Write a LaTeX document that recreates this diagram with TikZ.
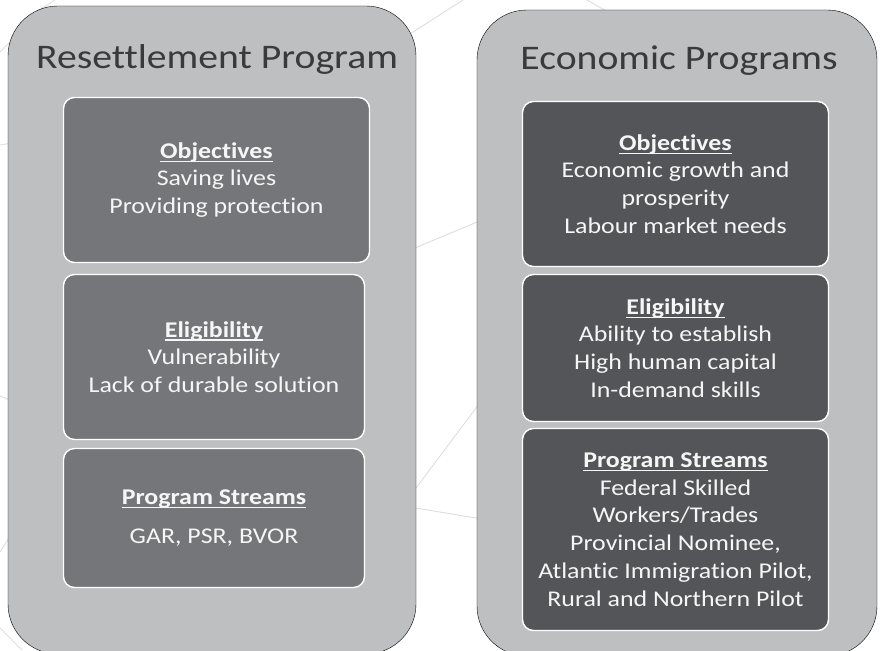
\documentclass[tikz,border=0pt]{standalone}
\usepackage{fontspec}
\setmainfont{Carlito}[FakeStretch=1.15, Ligatures=NoCommon]

\definecolor{panelgrey}{RGB}{190,191,193}
\definecolor{resgrey}{RGB}{117,118,122}
\definecolor{ecogrey}{RGB}{84,85,88}
\definecolor{titlegrey}{RGB}{58,58,60}
\definecolor{boxtext}{RGB}{246,246,246}
\definecolor{netgrey}{RGB}{222,222,224}

% bold heading with a low underline
\newcommand{\ulbf}[1]{\setbox0=\hbox{\bfseries #1}\rlap{\rule[-3.8pt]{\wd0}{1.4pt}}\box0}

\tikzset{
  panel/.style={fill=panelgrey, rounded corners=50pt},
  infobox/.style={draw=white, line width=1.4pt, rounded corners=11pt, inner sep=0pt,
    align=center, text=boxtext, font=\fontsize{22.5}{27.8}\selectfont},
  resbox/.style={infobox, fill=resgrey},
  ecobox/.style={infobox, fill=ecogrey},
  title/.style={anchor=base, text=titlegrey, font=\fontsize{34.5}{40}\selectfont},
  netline/.style={draw=netgrey, line width=0.9pt},
}

\begin{document}
\begin{tikzpicture}[x=1pt, y=-1pt]
  \useasboundingbox (0,0) rectangle (880,650);
  \clip (0,0) rectangle (880,650);
  \fill[white] (0,0) rectangle (880,650);

  % faint network in the background
  \draw[netline] (55,0) -- (30,16);
  \draw[netline] (0,52) -- (12,40);
  \draw[netline] (0,145) -- (12,143);
  \draw[netline] (0,396) -- (12,401);
  \draw[netline] (0,552) -- (12,533);
  \draw[netline] (0,628) -- (22,650);
  \draw[netline] (463,0) -- (410,34);
  \draw[netline] (587,0) -- (608,12);
  \draw[netline] (410,250) -- (482,220);
  \draw[netline] (410,496) -- (482,400);
  \draw[netline] (410,507) -- (482,519);

  % the two programme panels
  \draw[panel] (8,6) rectangle (416,654);
  \draw[panel] (477,10) rectangle (877,656);

  \node[title] (resTitle) at (217,69) {Resettlement Program};
  \node[title] (ecoTitle) at (679,70) {Economic Programs};

  \node[resbox, minimum width=306pt, minimum height=165pt] (resObj) at (216.5,180)
    {\ulbf{Objectives}\\Saving lives\\Providing protection};
  \node[resbox, minimum width=301pt, minimum height=165pt] (resElig) at (214,357)
    {\ulbf{Eligibility}\\Vulnerability\\Lack of durable solution};
  \node[resbox, minimum width=301pt, minimum height=139pt] (resStreams) at (214,518)
    {\ulbf{Program Streams}\\[11pt]GAR, PSR, BVOR};

  \node[ecobox, minimum width=306pt, minimum height=165pt] (ecoObj) at (675.5,184)
    {\ulbf{Objectives}\\Economic growth and\\prosperity\\Labour market needs};
  \node[ecobox, minimum width=306pt, minimum height=147pt] (ecoElig) at (675.5,348)
    {\ulbf{Eligibility}\\Ability to establish\\High human capital\\In-demand skills};
  \node[ecobox, minimum width=306pt, minimum height=202pt] (ecoStreams) at (675.5,529.5)
    {\ulbf{Program Streams}\\Federal Skilled\\Workers/Trades\\Provincial Nominee,\\
     Atlantic Immigration Pilot,\\Rural and Northern Pilot};
\end{tikzpicture}
\end{document}
